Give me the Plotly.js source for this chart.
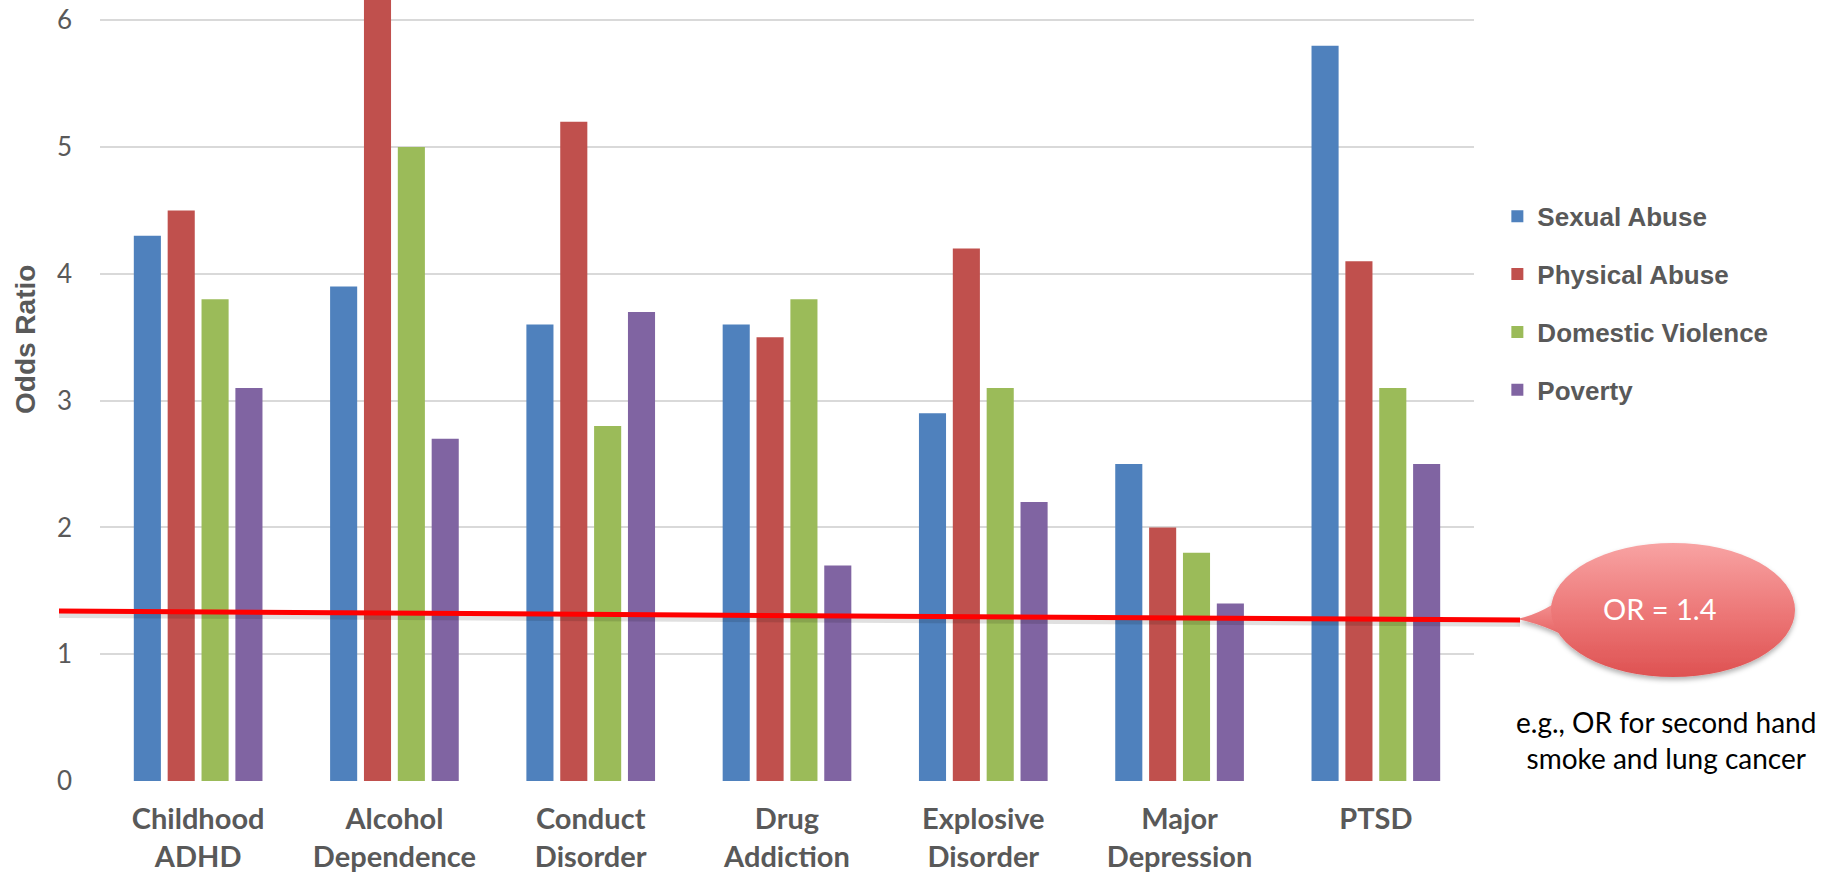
<!DOCTYPE html>
<html><head><meta charset="utf-8">
<script src="https://cdn.plot.ly/plotly-3.0.1.min.js"></script>
<style>html,body{margin:0;padding:0;background:#fff}#chart{width:1837px;height:874px}</style>
</head><body><div id="chart"></div>
<script>
const categories = ["Childhood<br>ADHD","Alcohol<br>Dependence","Conduct<br>Disorder","Drug<br>Addiction","Explosive<br>Disorder","Major<br>Depression","PTSD"];
const seriesNames = ["Sexual Abuse","Physical Abuse","Domestic Violence","Poverty"];
const sexualAbuse = [4.3, 3.9, 3.6, 3.6, 2.9, 2.5, 5.8];
const physicalAbuse = [4.5, 6.5, 5.2, 3.5, 4.2, 2.0, 4.1];
const domesticViolence = [3.8, 5.0, 2.8, 3.8, 3.1, 1.8, 3.1];
const poverty = [3.1, 2.7, 3.7, 1.7, 2.2, 1.4, 2.5];
const colors = ["#4F81BD","#C0504D","#9BBB59","#8064A2"];
const yTicks = [0,1,2,3,4,5,6];
const refLineStart = 1.34, refLineEnd = 1.27;
const calloutText = "OR = 1.4";
const captionText = "e.g., OR for second hand<br>smoke and lung cancer";
const yTitle = "Odds Ratio";

const allSeries = [sexualAbuse, physicalAbuse, domesticViolence, poverty];
const traces = allSeries.map((vals, i) => ({
  type: "bar", x: categories, y: vals, name: seriesNames[i],
  legendgroup: "g" + i,
  marker: {color: colors[i], line: {width: 0}},
  hoverinfo: "x+y+name"
}));

// plot area: x 100..1474, y 0..781
const L = 100, R = 1474, B = 781;
const px = v => (v - L) / (R - L);
const py = v => (B - v) / B;

// speech-bubble callout drawn as an SVG image (gradient fill)
const bx0 = 1508, by0 = 538, bw = 300, bh = 150;
const bubbleSvg = `<svg xmlns="http://www.w3.org/2000/svg" width="${bw}" height="${bh}" viewBox="0 0 ${bw} ${bh}">
<defs><linearGradient id="g" x1="0" y1="0" x2="0" y2="1">
<stop offset="0" stop-color="#F8A3A3"/><stop offset="0.55" stop-color="#EC7575"/><stop offset="1" stop-color="#DE5252"/></linearGradient>
<filter id="s" x="-10%" y="-10%" width="120%" height="130%"><feDropShadow dx="0" dy="3" stdDeviation="2.5" flood-color="#000" flood-opacity="0.3"/></filter></defs>
<g filter="url(#s)">
<path d="M 9 81 Q 38 75 64 52 L 82 112 Q 44 88 9 81 Z" fill="url(#g)"/>
<ellipse cx="${1673-bx0}" cy="${610-by0}" rx="122" ry="67" fill="url(#g)"/>
</g></svg>`;

const layout = {
  width: 1837, height: 874,
  margin: {l: L, r: 1837 - R, t: 0, b: 874 - B},
  paper_bgcolor: "#fff", plot_bgcolor: "#fff",
  barmode: "group", bargap: 0.31, bargroupgap: 0.2,
  showlegend: true,
  legend: {
    x: 1.017, y: 0.753, xanchor: "left", yanchor: "top",
    traceorder: "grouped", tracegroupgap: 21,
    font: {family: "Liberation Sans, Arial, sans-serif", size: 26, color: "#595959", weight: "bold"},
    itemwidth: 30, bgcolor: "rgba(0,0,0,0)"
  },
  xaxis: {
    showgrid: false, zeroline: false, showline: false,
    tickfont: {family: "Lato, sans-serif", size: 29, color: "#595959", weight: "bold"},
    ticks: "", ticklabelstandoff: 18
  },
  yaxis: {
    range: [0, 6.16], tickvals: yTicks, ticktext: yTicks.map(String),
    showgrid: true, gridcolor: "#D9D9D9", gridwidth: 2,
    zeroline: false, showline: false, ticks: "",
    tickfont: {family: "Lato, sans-serif", size: 26, color: "#595959"},
    ticklabelstandoff: 27
  },
  images: [{
    source: "data:image/svg+xml;charset=utf-8," + encodeURIComponent(bubbleSvg),
    xref: "paper", yref: "paper", x: px(bx0), y: py(by0),
    sizex: px(bx0 + bw) - px(bx0), sizey: py(by0) - py(by0 + bh),
    xanchor: "left", yanchor: "top", sizing: "stretch", layer: "above"
  }],
  shapes: [
    {type: "line", xref: "paper", yref: "y", x0: px(59), x1: px(1520), y0: refLineStart - 0.03, y1: refLineEnd - 0.03,
     line: {color: "rgba(0,0,0,0.12)", width: 6}},
    {type: "line", xref: "paper", yref: "y", x0: px(59), x1: px(1520), y0: refLineStart, y1: refLineEnd,
     line: {color: "#FF0000", width: 5}}
  ],
  annotations: [
    {xref: "paper", yref: "paper", x: px(26), y: py(340), text: yTitle, showarrow: false, textangle: -90,
     xanchor: "center", yanchor: "middle",
     font: {family: "Liberation Sans, Arial, sans-serif", size: 28, color: "#595959", weight: "bold"}},
    {xref: "paper", yref: "paper", x: px(1660), y: py(608), text: calloutText, showarrow: false,
     xanchor: "center", yanchor: "middle",
     font: {family: "Lato, sans-serif", size: 29, color: "#FFFFFF"}},
    {xref: "paper", yref: "paper", x: px(1666), y: py(740), text: captionText, showarrow: false,
     xanchor: "center", yanchor: "middle", align: "center",
     font: {family: "Lato, sans-serif", size: 28, color: "#000000"}}
  ]
};

Plotly.newPlot("chart", traces, layout, {displayModeBar: false, staticPlot: true});
</script></body></html>
